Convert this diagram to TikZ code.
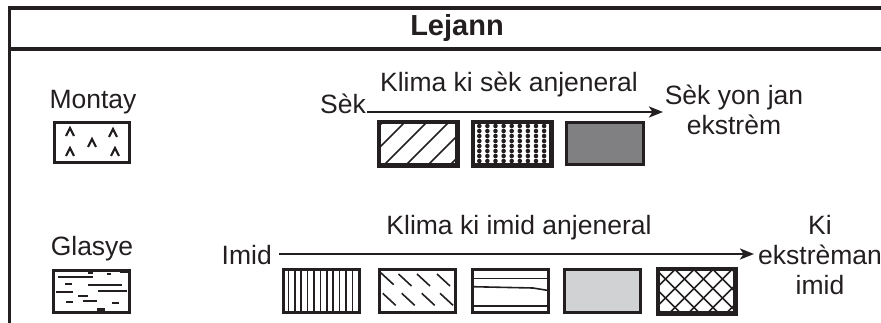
\documentclass[tikz,border=0pt]{standalone}
\usepackage{fontspec}
\setmainfont{Liberation Sans}
\usetikzlibrary{arrows.meta}
\definecolor{ink}{HTML}{231F20}
\definecolor{darkfill}{HTML}{808083}
\definecolor{lightfill}{HTML}{D1D2D4}
\begin{document}
\begin{tikzpicture}[x=1pt,y=-1pt,
  lbl/.style={font=\fontsize{26.5}{30}\selectfont, text=ink, inner sep=0pt, align=center},
  swatch/.style={draw=ink, line width=3pt, minimum width=76pt, minimum height=42pt, inner sep=0pt},
  arr/.style={draw=ink, line width=2.5pt, -{Stealth[length=14pt,width=11pt,inset=3.5pt]}},
  thinline/.style={draw=ink, line width=1.6pt},
  glyph/.style={draw=ink, line width=2.2pt}
]
\useasboundingbox (0,0) rectangle (881,323);
% frame
\draw[line width=3.5pt, ink] (881,8) -- (9.5,8) -- (9.5,323);
\draw[line width=3.5pt, ink] (9.5,49) -- (881,49);
\node[lbl, font=\bfseries\fontsize{29}{32}\selectfont] (title) at (457,28) {Lejann};

% Montay
\node[lbl] (montay) at (93,102) {Montay};
\node[swatch, minimum width=75pt, minimum height=40pt] (mbox) at (91.5,143) {};
\foreach \x/\y in {70/132, 70/152, 92/143, 113/133, 115/152}
  \draw[glyph, line join=miter] (\x-4,\y+4) -- (\x,\y-4) -- (\x+4,\y+4);

% Glasye
\node[lbl] (glasye) at (92,249) {Glasye};
\node[swatch] (gbox) at (91,291) {};
\foreach \a/\b/\y in {58/93/277.3, 88/93/272.7, 106.5/111/274.3, 65/72/284, 88/122/285.3,
  56/73/291.7, 78/87.5/295.7, 98/127/291, 66/73/301.7, 82.5/97/301, 111.5/118.5/302.7}
  \draw[glyph] (\a,\y) -- (\b,\y);
\draw[ink, line width=3.5pt] (120,271) -- (128.5,271);
\draw[ink, line width=3.5pt] (96.5,310) -- (105,310);

% dry row
\node[lbl] (klima1) at (509,84) {Klima ki sèk anjeneral};
\node[lbl, anchor=east] (sek) at (366,104) {Sèk};
\node[lbl] (sekyon) at (734,109.5) {Sèk yon jan\\ekstrèm};
\coordinate (a1s) at (367,112);
\coordinate (a1e) at (663,112);
\draw[arr] (a1s) -- (a1e);

\node[swatch, minimum width=77pt] (d1) at (418,144) {};
\begin{scope}
  \clip (d1.south west) rectangle (d1.north east);
  \foreach \b in {339,361,383,405,427,449}
    \draw[thinline] (\b,166) -- (\b+43,123);
\end{scope}
\draw[ink, line width=3pt] (d1.south west) rectangle (d1.north east);

\node[swatch, minimum width=77pt] (d2) at (512.3,144) {};
\begin{scope}
  \clip (d2.south west) rectangle (d2.north east);
  \foreach \i in {0,...,8}
    \foreach \j in {0,...,7}
      \fill[ink] (479.3+8.1*\i,126+5*\j) circle (2.3pt);
\end{scope}
\draw[ink, line width=3pt] (d2.south west) rectangle (d2.north east);

\node[swatch, minimum width=77pt, fill=darkfill] (d3) at (604.7,144) {};

% wet row
\node[lbl] (klima2) at (519,228) {Klima ki imid anjeneral};
\node[lbl, anchor=east] (imid) at (272,255) {Imid};
\node[lbl] (kiekstr) at (820,255) {Ki\\ekstrèman\\imid};
\coordinate (a2s) at (279,254);
\coordinate (a2e) at (754,254);
\draw[arr] (a2s) -- (a2e);

\node[swatch, minimum height=43pt] (w1) at (321.3,291) {};
\foreach \x in {288.3,294.7,301.1,307.5,313.9,320.3,326.7,333.1,339.5,345.9,352.3}
  \draw[thinline] (\x,269.5) -- (\x,312.5);

\node[swatch, minimum height=43pt] (w2) at (417.7,291) {};
\foreach \x/\y in {380.7/272.7, 398.5/274, 417/274, 437/274, 382.7/293.3, 401.7/293.3, 421.7/293.3, 440/293.3}
  \draw[thinline] (\x,\y) -- (\x+13,\y+12);

\node[swatch, minimum height=43pt] (w3) at (510.3,291) {};
\draw[thinline] (472.3,278.3) -- (548.3,278.3);
\draw[thinline] (472.3,286.7) -- (533,288) -- (548.3,290.5);
\draw[thinline] (472.3,306) -- (548.3,306);

\node[swatch, minimum height=43pt, fill=lightfill] (w4) at (602.3,291) {};

\node[swatch, minimum height=43pt] (w5) at (696.7,291) {};
\begin{scope}
  \clip (w5.south west) rectangle (w5.north east);
  \foreach \k in {-3,...,6} {
    \draw[thinline] (675+19*\k,269.5) -- (675+19*\k-50,319.5);
    \draw[thinline] (675+19*\k-38,269.5) -- (675+19*\k+12,319.5);
  }
\end{scope}
\draw[ink, line width=3pt] (w5.south west) rectangle (w5.north east);
\end{tikzpicture}
\end{document}
